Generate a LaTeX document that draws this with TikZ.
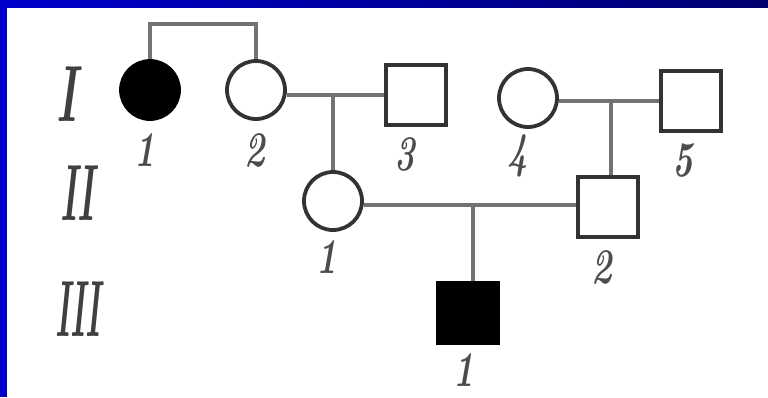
\documentclass[tikz,border=0pt]{standalone}
\definecolor{bleft}{RGB}{0,0,204}
\definecolor{bright}{RGB}{0,0,112}
\begin{document}
\begin{tikzpicture}[x=1bp,y=-1bp,
  link/.style={line width=3.6bp, draw=black!55},
  female/.style={circle, draw=black!80, line width=3.8bp, minimum size=58bp, inner sep=0pt},
  male/.style={rectangle, draw=black!80, line width=3.8bp, minimum size=60bp, inner sep=0pt},
  affected/.style={fill=black, draw=black},
  num/.style={font=\fontsize{50}{50}\selectfont\bfseries\itshape, text=black!70, inner sep=0pt},
  gen/.style={font=\fontsize{80}{80}\selectfont\bfseries\itshape, text=black!75, inner sep=0pt}]
\useasboundingbox (0,0) rectangle (768,397);
\fill[white] (0,0) rectangle (768,397);
\shade[left color=bleft, right color=bright] (0,0) rectangle (768,7);
\fill[bleft] (0,0) rectangle (7,397);

% generation labels
\node[gen] (gI) at (67,94) {\scalebox{0.55}[1]{I}};
\node[gen] (gII) at (77,193) {\scalebox{0.45}[1]{II}};
\node[gen] (gIII) at (78,309) {\scalebox{0.4}[1]{III}};

% individuals
\node[female, affected] (i1) at (150,90) {};
\node[female] (i2) at (256,90) {};
\node[male] (i3) at (416,95) {};
\node[female] (i4) at (528,98) {};
\node[male] (i5) at (691,101) {};
\node[female] (ii1) at (333,201) {};
\node[male] (ii2) at (608,207) {};
\node[male, affected] (iii1) at (468,313) {};

% numbers
\node[num] (n11) at (145,150) {\scalebox{0.7}[1]{1}};
\node[num] (n12) at (255,150) {\scalebox{0.7}[1]{2}};
\node[num] (n13) at (405,154) {\scalebox{0.7}[1]{3}};
\node[num] (n14) at (518,156) {\scalebox{0.7}[1]{4}};
\node[num] (n15) at (683,160) {\scalebox{0.7}[1]{5}};
\node[num] (n21) at (327,257) {\scalebox{0.7}[1]{1}};
\node[num] (n22) at (602,267) {\scalebox{0.7}[1]{2}};
\node[num] (n31) at (464,370) {\scalebox{0.7}[1]{1}};

% connectors
\coordinate (m1) at (333,95);
\coordinate (m2) at (611,101);
\coordinate (m3) at (473,205);
\draw[link] (i1.north) -- ++(0,-35) -| (i2.north);
\draw[link] (i2.east |- m1) -- (i3.west |- m1);
\draw[link] (m1) -- (ii1.north);
\draw[link] (i4.east |- m2) -- (i5.west |- m2);
\draw[link] (m2) -- (m2 |- ii2.north);
\draw[link] (ii1.east |- m3) -- (ii2.west |- m3);
\draw[link] (m3) -- (m3 |- iii1.north);
\end{tikzpicture}
\end{document}
